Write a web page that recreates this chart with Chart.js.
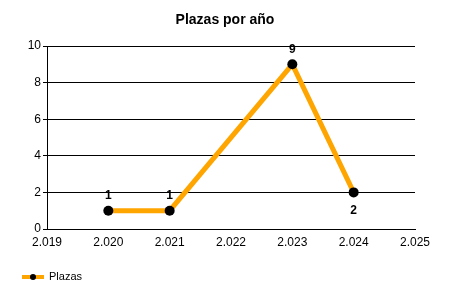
<!DOCTYPE html>
<html>
<head>
<meta charset="utf-8">
<script src="https://cdn.jsdelivr.net/npm/chart.js@4"></script>
<style>
  html, body { margin: 0; padding: 0; background: #fff; }
  #wrap { width: 450px; height: 300px; }
</style>
</head>
<body>
<div id="wrap"><canvas id="plazasChart" width="450" height="300"></canvas></div>
<script>
// Data
const years = [2020, 2021, 2023, 2024];
const plazas = [1, 1, 9, 2];
const labelSide = ['top', 'top', 'top', 'bottom'];
const chartTitle = 'Plazas por año';
const seriesName = 'Plazas';

const FONT = '"Liberation Sans", Arial, sans-serif';
const ORANGE = '#FFA500';

// value labels above/below points
const valueLabels = {
  id: 'valueLabels',
  afterDatasetsDraw(chart) {
    const c = chart.ctx;
    const meta = chart.getDatasetMeta(0);
    c.save();
    c.font = 'bold 12px ' + FONT;
    c.fillStyle = '#000';
    c.textAlign = 'center';
    c.textBaseline = 'middle';
    meta.data.forEach((pt, i) => {
      const dy = labelSide[i] === 'bottom' ? 18 : -15;
      c.fillText(String(plazas[i]), pt.x, pt.y + dy);
    });
    c.restore();
  }
};

// title centred on the whole canvas + legend in the bottom-left corner
const frame = {
  id: 'frame',
  afterDraw(chart) {
    const c = chart.ctx;
    c.save();
    c.fillStyle = '#000';
    c.textBaseline = 'middle';
    c.textAlign = 'center';
    c.font = 'bold 14px ' + FONT;
    c.fillText(chartTitle, chart.width / 2, 20);

    // legend entry
    const ly = 277;
    c.fillStyle = ORANGE;
    c.fillRect(22, ly - 2, 22, 4);
    c.fillStyle = '#000';
    c.beginPath(); c.arc(33, ly, 3, 0, Math.PI * 2); c.fill();
    c.textAlign = 'left';
    c.font = '11px ' + FONT;
    c.fillText(seriesName, 49, ly);
    c.restore();
  }
};

const ctx = document.getElementById('plazasChart').getContext('2d');
new Chart(ctx, {
  type: 'line',
  data: {
    datasets: [{
      label: seriesName,
      data: years.map((y, i) => ({ x: y, y: plazas[i] })),
      borderColor: ORANGE,
      borderWidth: 5,
      pointBackgroundColor: '#000',
      pointBorderColor: '#000',
      pointRadius: 5,
      pointBorderWidth: 0,
      tension: 0,
      fill: false
    }]
  },
  options: {
    responsive: false,
    animation: false,
    devicePixelRatio: 1,
    layout: { padding: { left: 0, right: 35, top: 46, bottom: 31 } },
    plugins: {
      title: { display: false },
      legend: { display: false },
      tooltip: { enabled: false }
    },
    scales: {
      x: {
        type: 'linear',
        min: 2019,
        max: 2025,
        ticks: {
          stepSize: 1,
          color: '#000',
          font: { family: FONT, size: 12 },
          padding: 2,
          callback: v => (v / 1000).toFixed(3)
        },
        grid: { display: false, tickLength: 4, color: '#000' },
        border: { color: '#000', width: 1 },
        afterFit(scale) { scale.height = 40; }
      },
      y: {
        min: 0,
        max: 10,
        ticks: {
          stepSize: 2,
          color: '#000',
          font: { family: FONT, size: 12 },
          padding: 2
        },
        grid: { color: '#000', tickLength: 4 },
        border: { color: '#000', width: 1 },
        afterFit(scale) { scale.width = 47; }
      }
    }
  },
  plugins: [valueLabels, frame]
});
</script>
</body>
</html>
